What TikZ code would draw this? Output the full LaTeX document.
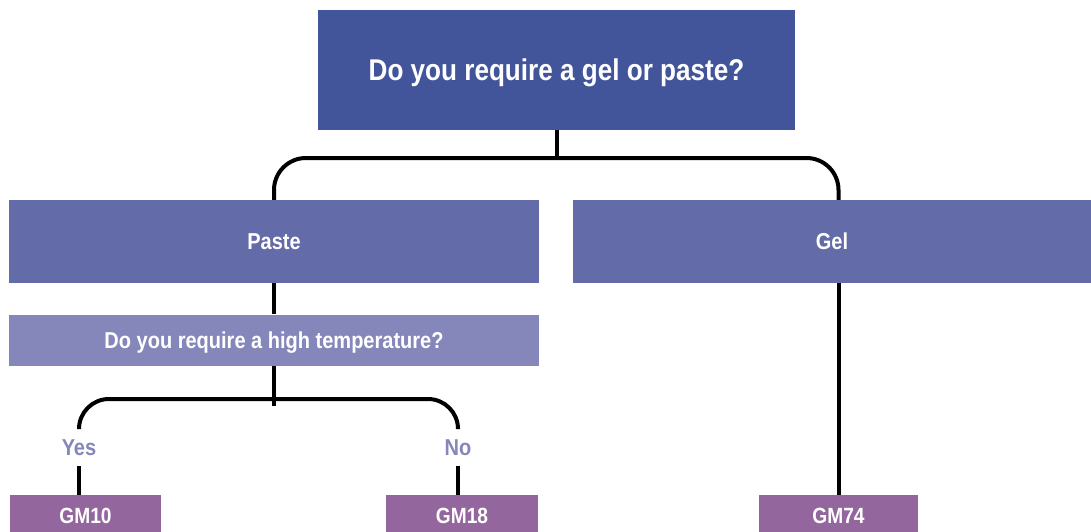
\documentclass[tikz,border=0pt]{standalone}
\usepackage{fontspec}
\setmainfont[FakeStretch=0.87]{Liberation Sans}
\definecolor{topblue}{HTML}{42559B}
\definecolor{midblue}{HTML}{636BA8}
\definecolor{lightblue}{HTML}{8587BA}
\definecolor{gmpurple}{HTML}{93679D}
\begin{document}
\begin{tikzpicture}[x=1pt,y=-1pt,
  box/.style={rectangle, inner sep=0pt, text=white, font=\bfseries, text depth=0pt},
  conn/.style={draw=black, line width=4pt},
  toptext/.style={font=\bfseries\fontsize{30}{35}\selectfont, text height=21.5pt},
  midtext/.style={font=\bfseries\fontsize{23}{27}\selectfont, text height=16.5pt},
  gmtext/.style={font=\bfseries\fontsize{22}{26}\selectfont, text height=15.8pt},
  lab/.style={inner sep=0pt, minimum height=38pt, text=lightblue, text depth=0pt, text height=16.5pt, font=\bfseries\fontsize{23}{27}\selectfont}]
\useasboundingbox (0,0) rectangle (1091,532);
\node[box, fill=topblue, minimum width=477pt, minimum height=120pt, toptext] (top) at (556.5,70) {Do you require a gel or paste?};
\node[box, fill=midblue, minimum width=530pt, minimum height=83pt, midtext] (paste) at (274,241.5) {Paste};
\node[box, fill=midblue, minimum width=518pt, minimum height=83pt, midtext] (gel) at (832,241.5) {Gel};
\node[box, fill=lightblue, minimum width=530pt, minimum height=51pt, midtext] (q) at (274,340) {Do you require a high temperature?};
\node[lab] (yes) at (79,447) {Yes};
\node[lab] (no) at (458,447) {No};
\node[box, fill=gmpurple, minimum width=151pt, minimum height=41pt, gmtext] (gm10) at (85.5,515.5) {GM10};
\node[box, fill=gmpurple, minimum width=152pt, minimum height=41pt, gmtext] (gm18) at (462,515.5) {GM18};
\node[box, fill=gmpurple, minimum width=159pt, minimum height=41pt, gmtext] (gm74) at (838.5,515.5) {GM74};
% connectors
\draw[conn] (top.south) -- (top.south |- 0,158);
\draw[conn, rounded corners=32pt] (paste.north) |- (top.south |- 0,158) -| (gm74.north |- gel.north);
\draw[conn] (paste.south) -- (q.north);
\draw[conn] (q.south) -- (q.south |- 0,406);
\draw[conn, rounded corners=30pt] (yes.north) |- (q.south |- 0,399) -| (no.north);
\draw[conn] (yes.south) -- (yes.south |- gm10.north);
\draw[conn] (no.south) -- (no.south |- gm18.north);
\draw[conn] (gm74.north |- gel.south) -- (gm74.north);
\end{tikzpicture}
\end{document}
